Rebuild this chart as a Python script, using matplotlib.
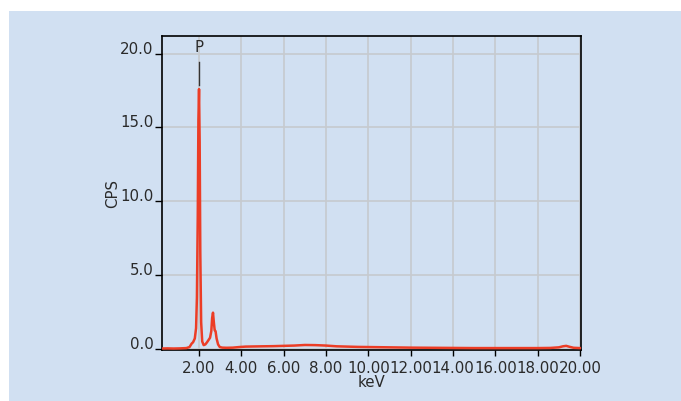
import matplotlib

matplotlib.use("Agg")
import matplotlib.pyplot as plt
from matplotlib.patches import Rectangle

# EDS spectrum (keV vs counts per second)
energy_kev = [0.25, 0.5, 0.8, 1.1, 1.4, 1.55, 1.65, 1.72, 1.8, 1.86, 1.9, 1.94,
              1.97, 2.0, 2.03, 2.06, 2.1, 2.15, 2.22, 2.3, 2.38, 2.45, 2.52,
              2.58, 2.62, 2.66, 2.7, 2.74, 2.78, 2.83, 2.9, 2.98, 3.1, 3.3,
              3.6, 3.9, 4.2, 4.6, 5.0, 5.5, 6.0, 6.5, 7.0, 7.5, 8.0, 8.5, 9.0,
              9.5, 10.0, 11.0, 12.0, 13.0, 14.0, 15.0, 16.0, 17.0, 18.0, 18.6,
              19.0, 19.2, 19.35, 19.5, 19.7, 20.0]
cps = [0.02, 0.03, 0.02, 0.03, 0.05, 0.12, 0.35, 0.45, 0.7, 1.4, 3.5, 9.0,
       15.5, 17.6, 14.0, 6.5, 1.8, 0.5, 0.25, 0.3, 0.45, 0.6, 0.75,
       1.2, 2.1, 2.45, 1.8, 1.25, 1.2, 0.7, 0.3, 0.12, 0.08, 0.07,
       0.08, 0.12, 0.15, 0.16, 0.17, 0.18, 0.2, 0.22, 0.26, 0.25, 0.22, 0.17, 0.15,
       0.13, 0.12, 0.1, 0.08, 0.07, 0.06, 0.05, 0.05, 0.05, 0.05, 0.06,
       0.1, 0.17, 0.2, 0.14, 0.07, 0.05]

x_ticks = [2, 4, 6, 8, 10, 12, 14, 16, 18, 20]
y_ticks = [0, 5, 10, 15, 20]
peak_label = "P"
peak_kev = 2.0

BG = "#d1e0f2"
RED = "#ec3d26"
TXT = "#2a2a2a"
FS = 10.8

fig = plt.figure(figsize=(6.81, 4.01), dpi=100, facecolor="white")
bg = Rectangle((9 / 681, 0), 1, 1 - 11 / 401, transform=fig.transFigure,
               facecolor=BG, edgecolor="none", zorder=-10)
fig.add_artist(bg)
ax = fig.add_axes([162 / 681, 1 - 350 / 401, (581 - 162) / 681, (350 - 36) / 401])
ax.set_facecolor(BG)

ax.plot(energy_kev, cps, color=RED, lw=1.8, zorder=3)

# peak marker
ax.plot([peak_kev, peak_kev], [17.85, 19.45], color="#333333", lw=1.0, zorder=4)
ax.text(peak_kev, 20.1, peak_label, ha="center", va="baseline", fontsize=FS,
        color=TXT)

ax.set_xlim(0.25, 20.05)
ax.set_ylim(-0.08, 21.2)
ax.set_xticks(x_ticks)
ax.set_xticklabels([f"{v:.2f}" for v in x_ticks], fontsize=FS, color=TXT)
ax.set_yticks(y_ticks)
ax.set_yticklabels([f"{v:.1f}" for v in y_ticks], fontsize=FS, color=TXT)
for t in ax.get_yticklabels():
    t.set_va("baseline")
ax.tick_params(axis="x", length=4, width=1, pad=4)
ax.tick_params(axis="y", length=5, width=1, pad=1)

ax.grid(True, color="#c6cacf", lw=1.2)
ax.set_axisbelow(True)
for s in ax.spines.values():
    s.set_color("black")
    s.set_linewidth(1.2)

ax.set_xlabel("keV", fontsize=FS, labelpad=-1, color=TXT)
ax.set_ylabel("CPS", fontsize=FS, labelpad=0, color=TXT)

fig.savefig("out.png", dpi=100, facecolor="white")
